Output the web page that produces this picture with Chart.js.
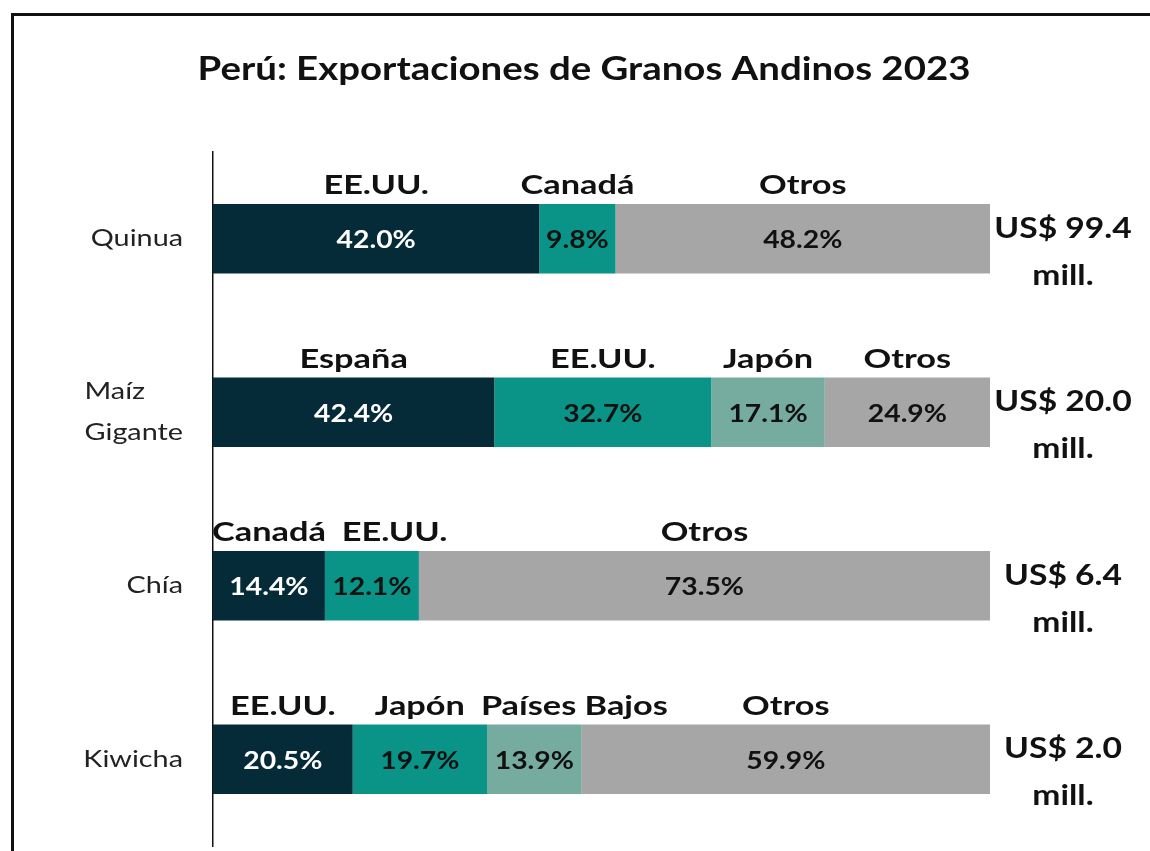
<!DOCTYPE html>
<html>
<head>
<meta charset="utf-8">
<script src="https://cdn.jsdelivr.net/npm/chart.js@4.4.0/dist/chart.umd.min.js"></script>
<style>
    html, body { margin: 0; padding: 0; background: #fff; overflow: hidden; }
    #wrap { position: relative; width: 1150px; height: 851px; }
    #frame {
        position: absolute; left: 11px; top: 13px; right: -20px; bottom: -20px;
        border: 3px solid #111; pointer-events: none;
    }
</style>
</head>
<body>
<div id="wrap">
    <canvas id="chart" width="1150" height="851"></canvas>
    <div id="frame"></div>
</div>
<script>
const categories = [['Quinua'], ['Maíz', 'Gigante'], ['Chía'], ['Kiwicha']];

const seg1Countries = ['EE.UU.', 'España', 'Canadá', 'EE.UU.'];
const seg1Values = [42.0, 42.4, 14.4, 20.5];
const seg2Countries = ['Canadá', 'EE.UU.', 'EE.UU.', 'Japón'];
const seg2Values = [9.8, 32.7, 12.1, 19.7];
const seg3Countries = ['Otros', 'Japón', 'Otros', 'Países Bajos'];
const seg3Values = [48.2, 17.1, 73.5, 13.9];
const seg4Countries = ['', 'Otros', '', 'Otros'];
const seg4Values = [null, 24.9, null, 59.9];

const totals = ['US$ 99.4', 'US$ 20.0', 'US$ 6.4', 'US$ 2.0'];

const titleText = 'Perú: Exportaciones de Granos Andinos 2023';

const countries = [seg1Countries, seg2Countries, seg3Countries, seg4Countries];
const values = [seg1Values, seg2Values, seg3Values, seg4Values];

const palette = ['#062b38', '#0a9488', '#76ab9f', '#a6a6a6'];
const grey = '#a6a6a6';
const FONT = 'Lato';

// each bar is drawn as share of its own row (100% stacked)
const rowTotals = categories.map((c, i) => values.reduce((s, v) => s + (v[i] || 0), 0));

const datasets = values.map((vals, d) => ({
    label: 'Segmento ' + (d + 1),
    data: vals.map((v, i) => v == null ? null : v / rowTotals[i] * 100),
    backgroundColor: ctx => countries[d][ctx.dataIndex] === 'Otros' ? grey : palette[d],
    borderWidth: 0,
    barPercentage: 0.8,
    categoryPercentage: 0.5
}));

// the source picture uses a wide-looking font, so text is stretched sideways a bit
function wideText(ctx, text, x, y, align, sx) {
    const w = ctx.measureText(text).width * sx;
    const left = align === 'center' ? x - w / 2 : align === 'right' ? x - w : x;
    ctx.save();
    ctx.translate(left, y);
    ctx.scale(sx, 1);
    ctx.textAlign = 'left';
    ctx.fillText(text, 0, 0);
    ctx.restore();
    return w;
}

const labelsPlugin = {
    id: 'labelsPlugin',
    afterDraw(chart) {
        const ctx = chart.ctx;
        const yScale = chart.scales.y;
        const area = chart.chartArea;
        ctx.save();
        ctx.textBaseline = 'middle';

        // title
        ctx.fillStyle = '#111';
        ctx.font = 'bold 32px ' + FONT;
        wideText(ctx, titleText, 584, 70, 'center', 1.2);

        categories.forEach((lines, i) => {
            const yc = yScale.getPixelForValue(i);

            // category label (block right-aligned, lines left-aligned)
            ctx.font = '24px ' + FONT;
            ctx.fillStyle = '#222';
            const sx = 1.2;
            const w = Math.max(...lines.map(l => ctx.measureText(l).width)) * sx;
            lines.forEach((l, k) => {
                wideText(ctx, l, area.left - 30 - w, yc + (k - (lines.length - 1) / 2) * 41, 'left', sx);
            });

            // total on the right
            ctx.font = 'bold 28px ' + FONT;
            ctx.fillStyle = '#111';
            wideText(ctx, totals[i], 1063, yc - 10, 'center', 1.2);
            wideText(ctx, 'mill.', 1063, yc + 37, 'center', 1.2);

            // segment labels
            let prevRight = -Infinity;
            chart.data.datasets.forEach((ds, d) => {
                const v = values[d][i];
                if (v == null) return;
                const bar = chart.getDatasetMeta(d).data[i];
                const left = Math.min(bar.x, bar.base);
                const right = Math.max(bar.x, bar.base);
                const cx = (left + right) / 2;
                const top = bar.y - bar.height / 2;

                ctx.font = 'bold 24px ' + FONT;
                ctx.fillStyle = d === 0 ? '#fff' : '#111';
                wideText(ctx, v.toFixed(1) + '%', cx, bar.y + 2, 'center', 1.18);

                ctx.font = 'bold 26px ' + FONT;
                ctx.fillStyle = '#111';
                const name = countries[d][i];
                const nsx = 1.32;
                const nw = ctx.measureText(name).width * nsx;
                let nx = cx - nw / 2;
                if (nx < prevRight + 16) nx = prevRight + 16;
                wideText(ctx, name, nx, top - 18, 'left', nsx);
                prevRight = nx + nw;
            });
        });
        ctx.restore();
    }
};

new Chart(document.getElementById('chart'), {
    type: 'bar',
    data: {
        labels: categories,
        datasets: datasets
    },
    options: {
        indexAxis: 'y',
        responsive: false,
        animation: false,
        layout: {
            padding: { left: 213, right: 160, top: 152, bottom: 5 }
        },
        scales: {
            x: {
                stacked: true,
                min: 0,
                max: 100,
                display: false
            },
            y: {
                stacked: true,
                grid: { display: false },
                ticks: { display: false },
                border: { display: true, color: '#111', width: 1.5 },
                afterFit: scale => { scale.width = 0; }
            }
        },
        plugins: {
            legend: { display: false },
            tooltip: { enabled: false },
            title: { display: false }
        }
    },
    plugins: [labelsPlugin]
});
</script>
</body>
</html>
